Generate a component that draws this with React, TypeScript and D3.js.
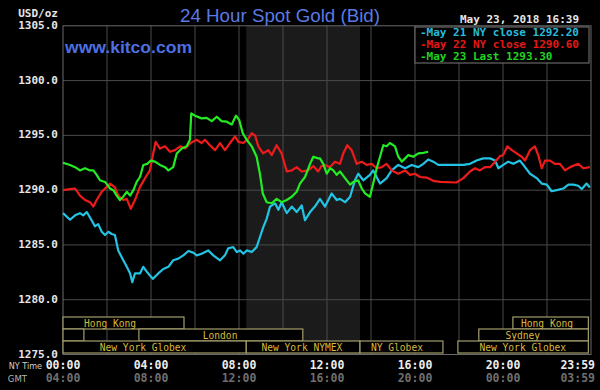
import React from 'react';
import * as d3 from 'd3';

const yTicks = [1305, 1300, 1295, 1290, 1285, 1280, 1275];
const yGrid = [1300, 1295, 1290, 1285, 1280];
const xGridHours = [2, 4, 6, 8, 10, 12, 14, 16, 18, 20, 22];
const xTickHours = [0, 4, 8, 12, 16, 20, 24];
const nyLabels = ['00:00', '04:00', '08:00', '12:00', '16:00', '20:00', '23:59'];
const gmtLabels = ['04:00', '08:00', '12:00', '16:00', '20:00', '00:00', '03:59'];

const legendLabels = ['-May 21 NY close 1292.20', '-May 22 NY close 1290.60', '-May 23 Last 1293.30'];

const may21: [number, number][] = [
  [0, 1287.9], [0.32, 1287.3], [0.55, 1287.7], [0.77, 1287.9], [0.92, 1287.7], [1.08, 1288.0],
  [1.3, 1287.25], [1.45, 1286.7], [1.6, 1286.9], [1.76, 1286.2], [1.91, 1285.9], [2.06, 1286.2],
  [2.21, 1286.0], [2.36, 1285.9], [2.51, 1284.5], [2.74, 1283.6], [2.9, 1283.0], [3.05, 1282.4],
  [3.15, 1281.6], [3.27, 1282.4], [3.5, 1282.4], [3.65, 1283.0], [3.83, 1282.5], [4.08, 1281.9],
  [4.33, 1282.4], [4.56, 1282.8], [4.79, 1283.0], [5.01, 1283.6], [5.24, 1283.75], [5.47, 1284.05],
  [5.7, 1284.45], [5.92, 1284.3], [6.08, 1284.05], [6.3, 1284.2], [6.6, 1284.5], [6.83, 1284.05],
  [7.14, 1283.6], [7.36, 1284.05], [7.51, 1284.7], [7.74, 1284.8], [7.9, 1284.35], [8.05, 1284.5],
  [8.2, 1284.2], [8.35, 1284.5], [8.58, 1284.35], [8.8, 1284.8], [8.95, 1285.7], [9.1, 1286.6],
  [9.26, 1287.4], [9.41, 1288.5], [9.64, 1288.8], [9.79, 1288.2], [9.94, 1288.9], [10.17, 1287.9],
  [10.4, 1288.5], [10.62, 1288.0], [10.85, 1288.6], [11.0, 1287.25], [11.23, 1288.0], [11.45, 1288.5],
  [11.68, 1289.2], [11.91, 1288.5], [12.21, 1289.7], [12.44, 1289.1], [12.59, 1289.2], [12.82, 1288.9],
  [13.05, 1289.4], [13.27, 1290.9], [13.42, 1291.5], [13.65, 1290.9], [13.95, 1291.4], [14.1, 1291.8],
  [14.41, 1290.6], [14.71, 1291.1], [14.94, 1291.8], [15.24, 1292.3], [15.55, 1292.0], [15.85, 1292.3],
  [16.15, 1292.1], [16.38, 1292.4], [16.6, 1292.8], [16.83, 1292.6], [17.06, 1292.3], [18.2, 1292.3],
  [18.5, 1292.4], [18.8, 1292.7], [19.1, 1292.9], [19.41, 1292.9], [19.64, 1292.7], [19.79, 1292.0],
  [20.01, 1292.3], [20.24, 1292.6], [20.47, 1292.4], [20.77, 1292.7], [21.0, 1292.1], [21.23, 1291.5],
  [21.53, 1291.1], [21.76, 1290.6], [21.99, 1290.5], [22.21, 1289.9], [22.44, 1290.0], [22.74, 1290.15],
  [22.97, 1290.5], [23.2, 1290.5], [23.42, 1290.4], [23.58, 1290.1], [23.8, 1290.6], [23.95, 1290.25],
];

const may22: [number, number][] = [
  [0, 1290.0], [0.32, 1290.1], [0.55, 1290.15], [0.77, 1289.5], [1.0, 1289.1], [1.23, 1288.9],
  [1.38, 1288.5], [1.53, 1289.1], [1.76, 1289.85], [1.99, 1290.3], [2.14, 1290.6], [2.36, 1290.25],
  [2.51, 1289.5], [2.74, 1289.1], [2.9, 1289.2], [3.08, 1288.3], [3.27, 1289.1], [3.5, 1290.3],
  [3.73, 1291.1], [3.95, 1291.8], [4.1, 1293.35], [4.21, 1294.4], [4.41, 1293.8], [4.64, 1294.0],
  [4.86, 1293.5], [5.09, 1293.65], [5.32, 1294.0], [5.55, 1293.8], [5.8, 1294.3], [6.08, 1294.6],
  [6.3, 1294.3], [6.45, 1294.6], [6.68, 1294.1], [6.91, 1293.65], [7.14, 1294.3], [7.36, 1293.65],
  [7.59, 1294.3], [7.82, 1294.9], [7.97, 1294.4], [8.2, 1294.3], [8.42, 1294.7], [8.58, 1295.2],
  [8.73, 1295.0], [8.88, 1294.0], [9.1, 1293.35], [9.33, 1293.65], [9.49, 1293.2], [9.71, 1294.1],
  [9.94, 1293.35], [10.17, 1291.7], [10.4, 1291.8], [10.62, 1292.1], [10.85, 1291.7], [11.15, 1291.8],
  [11.38, 1292.2], [11.6, 1291.7], [11.75, 1292.2], [11.91, 1292.3], [12.14, 1292.1], [12.36, 1292.6],
  [12.59, 1292.4], [12.74, 1293.35], [12.92, 1294.1], [13.12, 1293.65], [13.35, 1292.4], [13.58, 1292.6],
  [13.8, 1292.3], [14.03, 1292.4], [14.26, 1292.0], [14.49, 1292.1], [14.71, 1292.4], [14.94, 1291.8],
  [15.24, 1291.5], [15.55, 1291.8], [15.77, 1291.4], [16.0, 1291.5], [16.23, 1291.2], [16.53, 1291.15],
  [16.83, 1290.85], [17.14, 1290.75], [17.88, 1290.7], [18.2, 1291.1], [18.5, 1291.7], [18.73, 1292.0],
  [18.95, 1291.8], [19.18, 1292.1], [19.41, 1292.1], [19.64, 1292.6], [19.86, 1293.1], [20.01, 1293.2],
  [20.2, 1294.0], [20.4, 1293.65], [20.62, 1293.35], [20.85, 1293.05], [21.0, 1292.7], [21.23, 1293.65],
  [21.45, 1294.0], [21.6, 1293.2], [21.76, 1292.0], [21.91, 1292.7], [22.14, 1292.7], [22.36, 1292.4],
  [22.59, 1292.4], [22.82, 1291.8], [23.05, 1292.1], [23.42, 1292.4], [23.65, 1292.0], [23.95, 1292.1],
];

const may23: [number, number][] = [
  [0, 1292.5], [0.32, 1292.3], [0.55, 1292.1], [0.77, 1291.8], [1.0, 1292.0], [1.23, 1291.8],
  [1.38, 1291.8], [1.53, 1291.4], [1.68, 1290.9], [1.91, 1290.75], [2.14, 1290.15], [2.29, 1290.0],
  [2.44, 1289.5], [2.59, 1289.1], [2.74, 1289.4], [2.9, 1289.85], [3.05, 1289.5], [3.2, 1290.0],
  [3.35, 1290.75], [3.5, 1291.2], [3.65, 1292.3], [3.83, 1292.4], [3.99, 1292.7], [4.18, 1292.6],
  [4.41, 1292.3], [4.64, 1292.1], [4.79, 1291.8], [5.01, 1292.1], [5.17, 1293.35], [5.4, 1293.8],
  [5.62, 1294.0], [5.77, 1294.6], [5.83, 1297.0], [6.0, 1296.8], [6.3, 1296.55], [6.53, 1296.6],
  [6.76, 1296.3], [6.99, 1296.7], [7.21, 1296.3], [7.44, 1296.25], [7.67, 1296.0], [7.86, 1296.8],
  [8.01, 1296.4], [8.17, 1295.2], [8.35, 1294.6], [8.58, 1294.0], [8.8, 1293.05], [8.95, 1291.5],
  [9.08, 1289.7], [9.26, 1288.9], [9.49, 1288.8], [9.71, 1289.2], [9.94, 1288.9], [10.17, 1289.1],
  [10.4, 1289.4], [10.62, 1289.85], [10.77, 1290.6], [11.0, 1291.2], [11.23, 1292.4], [11.38, 1293.05],
  [11.6, 1292.9], [11.68, 1292.9], [11.83, 1292.4], [11.99, 1291.5], [12.14, 1292.0], [12.29, 1291.8],
  [12.44, 1291.4], [12.59, 1291.7], [12.82, 1291.1], [13.05, 1290.5], [13.2, 1290.75], [13.42, 1290.9],
  [13.58, 1290.15], [13.73, 1289.7], [13.95, 1289.4], [14.1, 1290.6], [14.26, 1292.0], [14.41, 1293.05],
  [14.56, 1294.1], [14.71, 1294.0], [14.86, 1294.3], [15.09, 1294.0], [15.24, 1293.05], [15.4, 1292.6],
  [15.55, 1292.9], [15.7, 1293.2], [15.92, 1293.05], [16.15, 1293.35], [16.38, 1293.4], [16.6, 1293.5],
];

const nymexHours: [number, number] = [8.33, 13.5];

const sessionNames = ['Hong Kong', 'Hong Kong', '', 'London', 'Sydney', 'New York Globex', 'New York NYMEX', 'NY Globex', 'New York Globex'];
const sessionRowIdx = [0, 0, 1, 1, 1, 2, 2, 2, 2];
const sessionStart = [0, 20.45, 0, 3.45, 18.9, 0, 8.33, 13.5, 17.95];
const sessionEnd = [5.5, 23.88, 0.95, 10.9, 23.88, 8.33, 13.5, 17.27, 23.88];
const sessionLabelAt = [2.14, 22.0, 0, 7.14, 20.9, 3.64, 10.86, 15.18, 20.9];

const W = 600;
const H = 390;
const mono = '"DejaVu Sans Mono", monospace';

export default function App() {
  const x = d3.scaleLinear().domain([0, 24]).range([63, 591]);
  const y = d3.scaleLinear().domain([1275, 1305]).range([354.5, 25.8]);
  const line = d3
    .line<[number, number]>()
    .x((d) => x(d[0]))
    .y((d) => y(d[1]));

  const series = [
    { data: may21, color: '#22c3e3' },
    { data: may22, color: '#ee1b1b' },
    { data: may23, color: '#24ec24' },
  ];
  const legendColors = ['#27bcdc', '#e41818', '#20d420'];

  const rowTop = 317;
  const rowH = 12;

  return (
    <svg
      width={W}
      height={H}
      style={{ position: 'fixed', left: 0, top: 0, background: '#000', display: 'block' }}
    >
      <rect x={0} y={0} width={W} height={H} fill="#000" />
      <rect
        x={x(nymexHours[0])}
        y={y(1305)}
        width={x(nymexHours[1]) - x(nymexHours[0])}
        height={y(1275) - y(1305)}
        fill="#1b1b1b"
      />
      {yGrid.map((v) => (
        <line key={'gy' + v} x1={x(0)} x2={x(24)} y1={y(v)} y2={y(v)} stroke="#4a4a4a" strokeWidth={1} />
      ))}
      {xGridHours.map((h) => (
        <line key={'gx' + h} x1={x(h)} x2={x(h)} y1={y(1305)} y2={y(1275)} stroke="#4a4a4a" strokeWidth={1} />
      ))}
      <rect
        x={x(0)}
        y={y(1305)}
        width={x(24) - x(0)}
        height={y(1275) - y(1305)}
        fill="none"
        stroke="#6a6a6a"
        strokeWidth={1}
      />
      {sessionNames.map((name, i) => {
        const r = sessionRowIdx[i];
        const x0 = x(sessionStart[i]);
        const x1 = x(sessionEnd[i]);
        const top = rowTop + r * rowH;
        return (
          <g key={'s' + i}>
            <rect x={x0} y={top} width={x1 - x0} height={rowH} fill="#000" stroke="#a39e6c" strokeWidth={1.2} />
            {name && (
              <text
                x={x(sessionLabelAt[i])}
                y={top + 9.5}
                textAnchor="middle"
                fontFamily={mono}
                fontSize={9.6}
                fill="#d8ba3c"
              >
                {name}
              </text>
            )}
          </g>
        );
      })}
      {series.map((s, i) => (
        <path key={'l' + i} d={line(s.data) || ''} fill="none" stroke={s.color} strokeWidth={2.2} strokeLinejoin="round" />
      ))}
      <rect x={415} y={27} width={174} height={36} fill="#000" stroke="#7a7a7a" strokeWidth={1} />
      {legendLabels.map((t, i) => (
        <text
          key={'lg' + i}
          x={420}
          y={36 + i * 12}
          fontFamily={mono}
          fontWeight="bold"
          fontSize={11}
          fill={legendColors[i]}
        >
          {t}
        </text>
      ))}
      <text x={58} y={17} textAnchor="end" fontFamily={mono} fontWeight="bold" fontSize={11} fill="#e6e6e6">
        USD/oz
      </text>
      {yTicks.map((v) => (
        <text
          key={'yt' + v}
          x={58}
          y={y(v) + 3}
          textAnchor="end"
          fontFamily={mono}
          fontWeight="bold"
          fontSize={11}
          fill="#e6e6e6"
        >
          {v.toFixed(1)}
        </text>
      ))}
      <text x={42} y={369} textAnchor="end" fontFamily="'DejaVu Sans Condensed', 'DejaVu Sans', sans-serif" fontSize={9} fill="#cfcfcf">
        NY Time
      </text>
      <text x={27} y={382} textAnchor="end" fontFamily="'DejaVu Sans Condensed', 'DejaVu Sans', sans-serif" fontSize={9.5} fill="#b5b5b5">
        GMT
      </text>
      {xTickHours.map((h, i) => {
        const last = i === xTickHours.length - 1;
        return (
          <g key={'xt' + i}>
            <text
              x={last ? 595 : x(h)}
              y={369}
              textAnchor={last ? 'end' : 'middle'}
              fontFamily={mono}
              fontWeight="bold"
              fontSize={11.5}
              fill="#ececec"
            >
              {nyLabels[i]}
            </text>
            <text
              x={last ? 595 : x(h)}
              y={382}
              textAnchor={last ? 'end' : 'middle'}
              fontFamily={mono}
              fontWeight="bold"
              fontSize={11.5}
              fill="#6e6e6e"
            >
              {gmtLabels[i]}
            </text>
          </g>
        );
      })}
      <text
        x={180}
        y={22}
        fontFamily="'Liberation Sans', Arial, sans-serif"
        fontSize={18}
        fill="#5a7ae4"
        textLength={200}
        lengthAdjust="spacingAndGlyphs"
      >
        24 Hour Spot Gold (Bid)
      </text>
      <text
        x={65}
        y={53}
        fontFamily="'Liberation Sans', Arial, sans-serif"
        fontWeight="bold"
        fontSize={17}
        fill="#4d6fe0"
        textLength={127}
        lengthAdjust="spacingAndGlyphs"
      >
        www.kitco.com
      </text>
      <text
        x={460}
        y={23}
        fontFamily={mono}
        fontWeight="bold"
        fontSize={11}
        fill="#e6e6e6"
        textLength={119}
        lengthAdjust="spacingAndGlyphs"
      >
        May 23, 2018 16:39
      </text>
    </svg>
  );
}
